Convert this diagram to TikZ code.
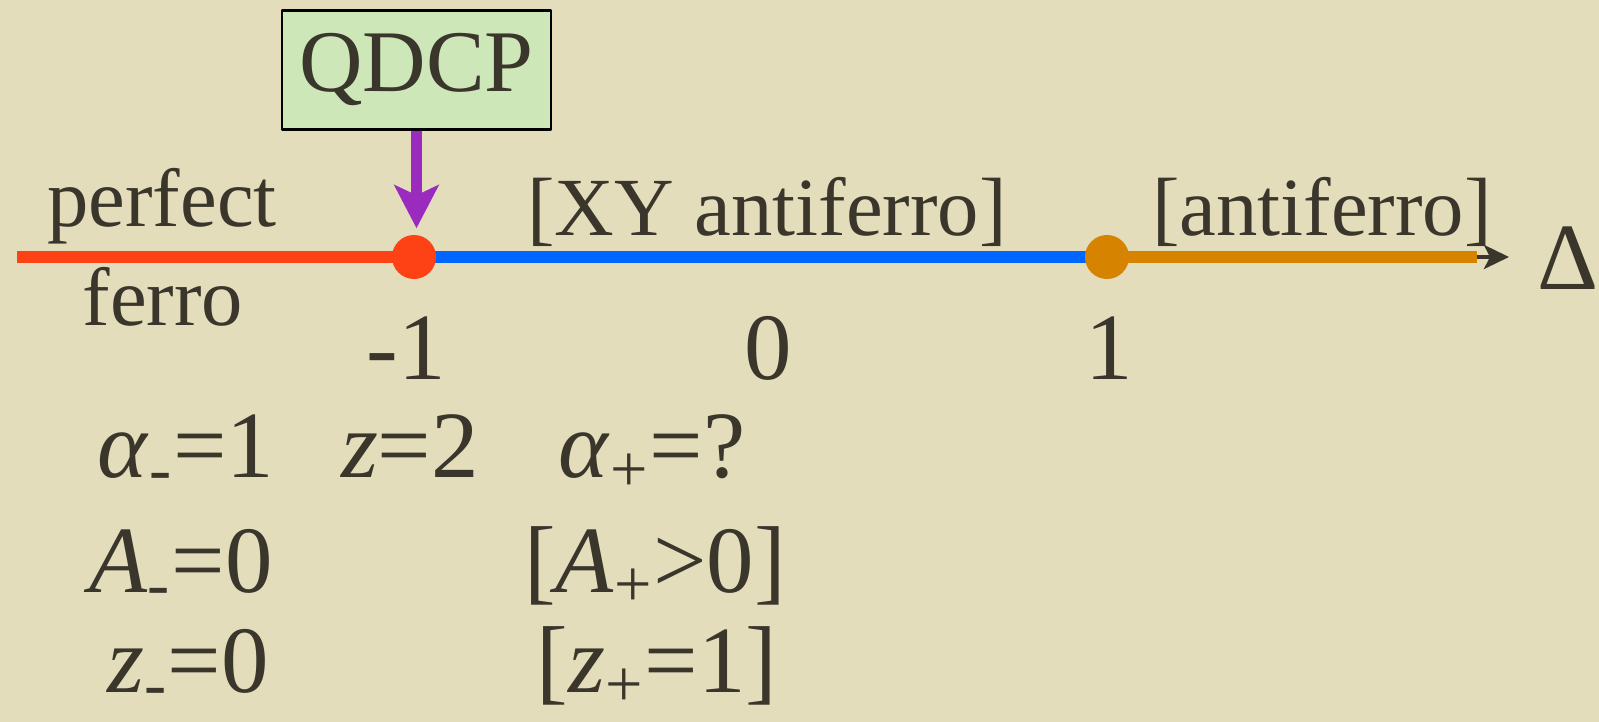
\documentclass[tikz,border=0pt]{standalone}
\usepackage{fontspec}
\setmainfont{Liberation Serif}
\usetikzlibrary{arrows.meta}

\begin{document}
\begin{tikzpicture}[x=0.01cm, y=-0.01cm, line join=round,
    lbl/.style={text=ink, anchor=base, inner sep=0pt, font=\fontsize{23.5}{28}\selectfont},
    big/.style={lbl, font=\fontsize{27}{32}\selectfont},
    phase/.style={line width=0.12cm},
    dot/.style={circle, fill=#1, minimum size=0.44cm, inner sep=0pt}]
  \definecolor{paper}{RGB}{227,221,188}
  \definecolor{ink}{RGB}{58,54,44}
  \definecolor{ferrored}{RGB}{255,66,22}
  \definecolor{xyblue}{RGB}{0,102,255}
  \definecolor{afmorange}{RGB}{214,132,0}
  \definecolor{qdcpgreen}{RGB}{205,231,184}
  \definecolor{qdcppurple}{RGB}{155,43,190}
  \useasboundingbox[fill=paper] (0,0) rectangle (1599,722);
  \coordinate (L) at (17,257);
  \coordinate (Dm) at (414,257);
  \coordinate (Dp) at (1107,257);
  \coordinate (E) at (1477,257);
  \coordinate (T) at (1509,257);
  \draw[ink, line width=1.1pt, -{Stealth[length=0.25cm, width=0.24cm, inset=0.06cm]}] (L) -- (T);
  \draw[phase, ferrored] (L) -- (Dm);
  \draw[phase, xyblue] (Dm) -- (Dp);
  \draw[phase, afmorange] (Dp) -- (E);
  \node[dot=ferrored] (m1) at (Dm) {};
  \node[dot=afmorange] (p1) at (Dp) {};
  \node[draw=black, line width=0.6pt, fill=qdcpgreen, text=ink, minimum width=2.69cm, minimum height=1.19cm,
    inner sep=0pt, font=\fontsize{25}{29}\selectfont] (qdcp) at (416.5,70) {QDCP};
  \draw[qdcppurple, line width=0.1cm, shorten >=0.06cm,
    -{Stealth[length=0.43cm, width=0.44cm, inset=0.1cm]}] (qdcp.south) -- (qdcp.south |- m1.north);
  \node[lbl] (perf) at (162,227) {perfect};
  \node[lbl] (ferro) at (163,326) {ferro};
  \node[lbl] (xyafm) at (767,236) {[XY antiferro]};
  \node[lbl] (afm) at (1322,236) {[antiferro]};
  \node[big] (delta) at (1568,290) {Δ};
  \foreach \n/\x/\t in {tm/406/-1, tz/768/0, tp/1109/1}
    \node[big] (\n) at (\x,380) {\t};
  \node[big] (am) at (186,478) {\textit{α}\textsubscript{-}=1};
  \node[big] (zc) at (410,478) {\textit{z}=2};
  \node[big] (ap) at (652,478) {\textit{α}\textsubscript{+}=?};
  \node[big] (Am) at (181,593) {\textit{A}\textsubscript{-}=0};
  \node[big] (Ap) at (655,593) {[\textit{A}\textsubscript{+}>0]};
  \node[big] (zm) at (188,693) {\textit{z}\textsubscript{-}=0};
  \node[big] (zp) at (657,693) {[\textit{z}\textsubscript{+}=1]};
\end{tikzpicture}
\end{document}
